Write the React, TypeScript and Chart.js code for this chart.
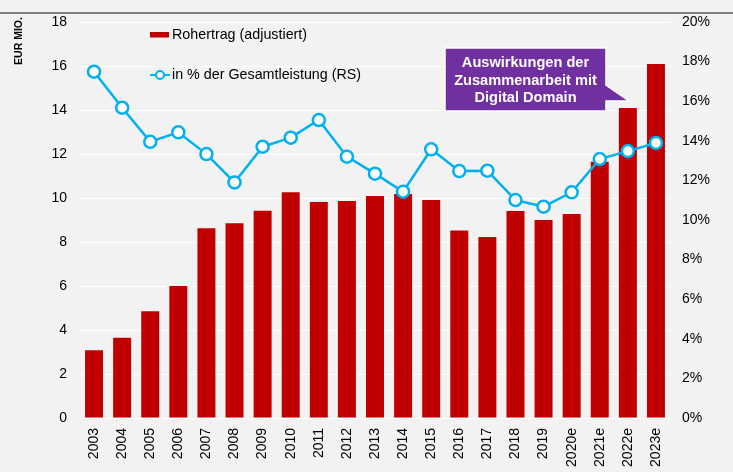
import React, { useEffect, useRef } from "react";
import { Chart, registerables } from "chart.js";

Chart.register(...registerables);

const years = [
  "2003", "2004", "2005", "2006", "2007", "2008", "2009", "2010", "2011", "2012",
  "2013", "2014", "2015", "2016", "2017", "2018", "2019", "2020e", "2021e", "2022e", "2023e",
];
const rohertrag = [
  3.08, 3.65, 4.85, 6.0, 8.62, 8.85, 9.42, 10.26, 9.82, 9.86,
  10.09, 10.18, 9.91, 8.52, 8.23, 9.41, 9.0, 9.27, 11.65, 14.09, 16.09,
];
const anteilProzent = [
  17.49, 15.67, 13.95, 14.43, 13.33, 11.9, 13.7, 14.16, 15.05, 13.2,
  12.34, 11.43, 13.57, 12.47, 12.49, 11.01, 10.67, 11.4, 13.08, 13.48, 13.89,
];
const barLabel = "Rohertrag (adjustiert)";
const lineLabel = "in % der Gesamtleistung (RS)";
const axisTitle = "EUR MIO.";
const calloutLines = ["Auswirkungen der", "Zusammenarbeit mit", "Digital Domain"];

const FONT = '"Liberation Sans", Arial, sans-serif';
const RED = "#c00000";
const BLUE = "#00b0f0";
const PURPLE = "#7030a0";

const decorPlugin = {
  id: "decor",
  beforeDraw(chart: any) {
    const ctx = chart.ctx;
    ctx.save();
    ctx.fillStyle = "#f2f2f2";
    ctx.fillRect(0, 0, chart.width, chart.height);
    ctx.strokeStyle = "#7f7f7f";
    ctx.lineWidth = 2;
    ctx.beginPath();
    ctx.moveTo(0, 13);
    ctx.lineTo(chart.width, 13);
    ctx.stroke();
    ctx.restore();
  },
  afterDraw(chart: any) {
    const ctx = chart.ctx;
    const area = chart.chartArea;
    ctx.save();
    // axis title
    ctx.translate(19, 41);
    ctx.rotate(-Math.PI / 2);
    ctx.font = `bold 10.5px ${FONT}`;
    ctx.fillStyle = "#000";
    ctx.textAlign = "center";
    ctx.textBaseline = "middle";
    ctx.fillText(axisTitle, 0, 0);
    ctx.restore();

    // legend
    ctx.save();
    const lx = area.left + 70;
    ctx.fillStyle = RED;
    ctx.fillRect(lx, 32, 19, 5.5);
    ctx.font = `14.3px ${FONT}`;
    ctx.fillStyle = "#000";
    ctx.textBaseline = "middle";
    ctx.textAlign = "left";
    ctx.fillText(barLabel, lx + 22, 35);
    ctx.strokeStyle = BLUE;
    ctx.lineWidth = 2;
    ctx.beginPath();
    ctx.moveTo(lx, 75);
    ctx.lineTo(lx + 20, 75);
    ctx.stroke();
    ctx.beginPath();
    ctx.arc(lx + 10, 75, 4, 0, Math.PI * 2);
    ctx.fillStyle = "#fff";
    ctx.fill();
    ctx.stroke();
    ctx.fillStyle = "#000";
    ctx.fillText(lineLabel, lx + 22, 75);
    ctx.restore();

    // callout
    ctx.save();
    const bx0 = 445, bx1 = 606, by0 = 48, by1 = 111;
    ctx.beginPath();
    ctx.moveTo(bx0, by0);
    ctx.lineTo(bx1, by0);
    ctx.lineTo(bx1, 85);
    ctx.lineTo(629, 101);
    ctx.lineTo(bx1, 101);
    ctx.lineTo(bx1, by1);
    ctx.lineTo(bx0, by1);
    ctx.closePath();
    ctx.fillStyle = PURPLE;
    ctx.fill();
    ctx.strokeStyle = "#fff";
    ctx.lineWidth = 1.5;
    ctx.stroke();
    ctx.font = `bold 14.6px ${FONT}`;
    ctx.fillStyle = "#fff";
    ctx.textAlign = "center";
    ctx.textBaseline = "middle";
    const cx = (bx0 + bx1) / 2;
    calloutLines.forEach((t, i) => ctx.fillText(t, cx, 63 + i * 17.5));
    ctx.restore();
  },
};

export default function App() {
  const ref = useRef<HTMLCanvasElement | null>(null);
  useEffect(() => {
    if (!ref.current) return;
    const chart = new Chart(ref.current, {
      type: "bar",
      data: {
        labels: years,
        datasets: [
          {
            type: "line",
            label: lineLabel,
            data: anteilProzent,
            yAxisID: "y1",
            borderColor: BLUE,
            borderWidth: 2.5,
            pointRadius: 6,
            pointBorderWidth: 2.5,
            pointBackgroundColor: "#fff",
            pointBorderColor: BLUE,
            tension: 0,
            order: 0,
          } as any,
          {
            type: "bar",
            label: barLabel,
            data: rohertrag,
            yAxisID: "y",
            backgroundColor: RED,
            borderWidth: 0,
            barPercentage: 0.64,
            categoryPercentage: 1,
            order: 1,
          },
        ],
      },
      options: {
        animation: false,
        responsive: false,
        maintainAspectRatio: false,
        layout: { padding: { top: 22, left: 0, right: 0, bottom: 0 } },
        plugins: { legend: { display: false }, tooltip: { enabled: false } },
        scales: {
          x: {
            grid: { display: false, drawTicks: false },
            border: { display: false },
            ticks: {
              maxRotation: 90,
              minRotation: 90,
              padding: 10,
              autoSkip: false,
              color: "#000",
              font: { family: FONT, size: 14 },
            },
            afterFit(scale: any) {
              scale.height = 54;
            },
          },
          y: {
            position: "left",
            min: 0,
            max: 18,
            grid: { color: "#ffffff", lineWidth: 1, drawTicks: false },
            border: { display: false },
            ticks: {
              stepSize: 2,
              padding: 13,
              color: "#000",
              font: { family: FONT, size: 14 },
            },
            afterFit(scale: any) {
              scale.width = 80;
            },
          },
          y1: {
            position: "right",
            min: 0,
            max: 20,
            grid: { drawOnChartArea: false, drawTicks: false },
            border: { display: false },
            ticks: {
              stepSize: 2,
              padding: 12,
              color: "#000",
              font: { family: FONT, size: 14 },
              callback: (v: any) => `${v}%`,
            },
            afterFit(scale: any) {
              scale.width = 63;
            },
          },
        },
      },
      plugins: [decorPlugin],
    });
    return () => chart.destroy();
  }, []);
  return (
    <div style={{ position: "fixed", left: 0, top: 0, width: 733, height: 472 }}>
      <canvas ref={ref} width={733} height={472} style={{ width: 733, height: 472, display: "block" }} />
    </div>
  );
}
